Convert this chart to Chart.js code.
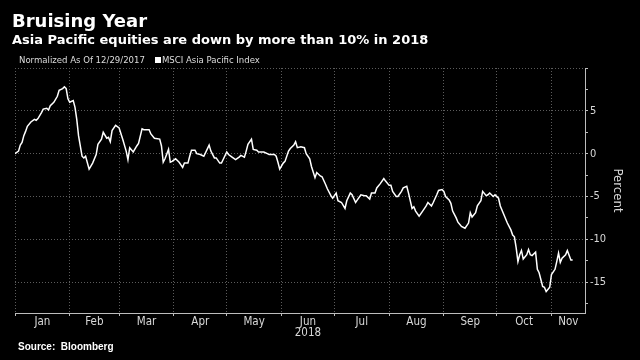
<!DOCTYPE html>
<html>
<head>
<meta charset="utf-8">
<script src="https://cdn.jsdelivr.net/npm/chart.js@4.4.0/dist/chart.umd.min.js"></script>
<style>
  html, body { margin: 0; padding: 0; background: #000; }
  #wrap { position: relative; width: 640px; height: 360px; overflow: hidden; background: #000; }
  #chart { position: absolute; left: 0; top: 0; }
  .txt { position: absolute; color: #fff; white-space: nowrap; line-height: 1; }
  #title { left: 12px; top: 10px; font: bold 18px 'DejaVu Sans', sans-serif; }
  #subtitle { left: 12px; top: 32px; font: bold 13px 'DejaVu Sans', sans-serif; }
  #legend { left: 19px; top: 54px; font: 9.5px 'DejaVu Sans Condensed', 'DejaVu Sans', sans-serif; color: #ddd; }
  #legend .sw { display: inline-block; width: 6px; height: 6px; background: #fff; margin: 0 1px 0 10px; }
  #source { left: 18px; top: 341px; font: bold 10px 'Liberation Sans', sans-serif; }
</style>
</head>
<body>
<div id="wrap">
  <canvas id="chart" width="640" height="360"></canvas>
  <div class="txt" id="title">Bruising Year</div>
  <div class="txt" id="subtitle">Asia Pacific equities are down by more than 10% in 2018</div>
  <div class="txt" id="legend">Normalized As Of 12/29/2017<span class="sw"></span>MSCI Asia Pacific Index</div>
  <div class="txt" id="source">Source:&nbsp; Bloomberg</div>
</div>
<script>
// Days since Jan 1 2018 and % change vs 12/29/2017
const tradeDays = [
  0, 2, 3, 4, 5, 6, 7, 9, 11, 12,
  13, 15, 16, 18, 19, 20, 22, 24, 25, 27,
  28, 29, 30, 31, 33, 34, 35, 36, 38, 39,
  40, 42, 44, 46, 47, 49, 50, 52, 53, 54,
  55, 57, 59, 61, 63, 64, 65, 67, 69, 70,
  72, 73, 76, 77, 79, 82, 83, 84, 85, 87,
  88, 89, 91, 93, 95, 96, 98, 99, 100, 102,
  103, 105, 107, 110, 111, 113, 114, 116, 117, 120,
  121, 123, 125, 127, 128, 130, 131, 132, 134, 135,
  137, 138, 141, 143, 144, 147, 148, 149, 150, 152,
  153, 155, 156, 158, 159, 160, 162, 164, 165, 167,
  168, 170, 171, 173, 174, 176, 177, 179, 180, 182,
  183, 185, 187, 188, 190, 191, 193, 194, 196, 198,
  199, 201, 202, 204, 205, 207, 209, 210, 212, 213,
  214, 216, 217, 219, 220, 222, 223, 225, 226, 227,
  229, 231, 233, 234, 236, 237, 239, 240, 242, 243,
  244, 246, 247, 248, 250, 251, 253, 255, 257, 258,
  259, 261, 262, 264, 265, 267, 268, 269, 271, 272,
  274, 275, 277, 279, 281, 282, 283, 284, 285, 286,
  287, 288, 290, 291, 292, 293, 295, 296, 297, 299,
  300, 301, 303, 304, 306, 307, 308, 309, 310, 312,
  313, 315, 316
];
const msciApac = [
  0, 0.3, 1.0, 1.3, 2.1, 2.6, 3.2, 3.7, 4.0, 3.9,
  4.1, 4.8, 5.2, 5.3, 5.1, 5.6, 6.0, 6.7, 7.4, 7.6,
  7.8, 7.6, 6.4, 6.0, 6.2, 5.4, 4.0, 2.1, -0.3, -0.5,
  -0.3, -1.8, -1.1, -0.1, 1.1, 1.7, 2.5, 1.8, 1.9, 1.4,
  2.7, 3.3, 3.0, 1.7, 0.3, -0.7, 0.7, 0.2, 0.9, 1.2,
  2.9, 2.8, 2.8, 2.3, 1.8, 1.7, 0.9, -1.0, -0.6, 0.5,
  -1.0, -0.9, -0.6, -1.0, -1.6, -1.1, -1.1, -0.3, 0.4, 0.4,
  0.0, -0.1, -0.3, 1.0, 0.3, -0.5, -0.5, -1.1, -1.1, 0.2,
  -0.1, -0.4, -0.7, -0.4, -0.2, -0.4, 0.3, 1.1, 1.7, 0.5,
  0.4, 0.2, 0.2, 0.0, -0.1, -0.1, -0.3, -1.0, -1.8, -1.1,
  -0.9, 0.3, 0.6, 1.0, 1.4, 0.7, 0.8, 0.7, 0.0, -0.6,
  -1.5, -2.8, -2.2, -2.6, -2.7, -3.6, -4.1, -4.9, -5.2, -4.6,
  -5.5, -5.7, -6.4, -5.5, -4.6, -4.8, -5.7, -5.4, -4.8, -4.9,
  -4.9, -5.3, -4.6, -4.6, -4.0, -3.5, -2.9, -3.2, -3.7, -3.7,
  -4.4, -5.0, -5.0, -4.4, -4.0, -3.8, -4.6, -6.4, -6.2, -6.7,
  -7.3, -6.7, -6.1, -5.7, -6.1, -5.7, -4.8, -4.3, -4.2, -4.4,
  -5.0, -5.4, -5.8, -6.7, -7.5, -8.0, -8.5, -8.7, -8.1, -6.9,
  -7.4, -6.9, -6.1, -5.5, -4.4, -4.9, -4.8, -4.6, -5.0, -4.8,
  -5.2, -6.1, -7.1, -8.1, -8.9, -9.5, -9.7, -11.0, -12.6, -11.8,
  -11.3, -12.3, -11.8, -11.2, -11.8, -11.9, -11.5, -13.5, -13.9, -15.5,
  -15.6, -16.1, -15.6, -14.1, -13.5, -12.6, -11.6, -12.7, -12.2, -11.8,
  -11.3, -12.4, -12.4
];

const monthStarts = [0, 31, 59, 90, 120, 151, 181, 212, 243, 273, 304];
const monthLabels = ['Jan', 'Feb', 'Mar', 'Apr', 'May', ['Jun', '2018'], 'Jul', 'Aug', 'Sep', 'Oct', 'Nov'];
const yTickValues = [-17.5, -15, -12.5, -10, -7.5, -5, -2.5, 0, 2.5, 5, 7.5, 10];
const xMax = 323;

const gridColor = '#5c5c5c';
const axisColor = '#bdbdbd';
const labelColor = '#d8d8d8';

// label each month in the middle of its span
const monthMids = monthStarts.map((d, i) => (d + (i < monthStarts.length - 1 ? monthStarts[i + 1] : xMax)) / 2);

Chart.defaults.font.family = "'DejaVu Sans Condensed', 'DejaVu Sans', sans-serif";

new Chart(document.getElementById('chart'), {
  type: 'line',
  data: {
    datasets: [{
      label: 'MSCI Asia Pacific Index',
      data: tradeDays.map((d, i) => ({ x: d, y: msciApac[i] })),
      borderColor: '#ffffff',
      borderWidth: 1.5,
      pointRadius: 0,
      tension: 0,
      fill: false,
      xAxisID: 'x',
      yAxisID: 'y'
    }]
  },
  options: {
    responsive: false,
    devicePixelRatio: 1,
    animation: false,
    layout: { padding: { left: 15, top: 68, right: 0, bottom: 0 } },
    plugins: { legend: { display: false }, tooltip: { enabled: false } },
    scales: {
      x: {
        type: 'linear',
        position: 'bottom',
        weight: 0,
        min: 0,
        max: xMax,
        afterBuildTicks: s => { s.ticks = monthStarts.map(v => ({ value: v })); },
        afterFit: s => { s.height = 3; },
        grid: { color: gridColor, tickLength: 3, tickColor: axisColor },
        border: { display: true, color: axisColor, width: 1, dash: [1, 2] },
        ticks: { display: false }
      },
      x2: {
        type: 'linear',
        position: 'bottom',
        weight: 1,
        min: 0,
        max: xMax,
        afterBuildTicks: s => { s.ticks = monthMids.map(v => ({ value: v })); },
        afterFit: s => { s.height = 44; },
        grid: { display: false, drawTicks: false },
        border: { display: false },
        ticks: {
          color: labelColor,
          font: { size: 11.5, lineHeight: 1 },
          padding: 0,
          autoSkip: false,
          maxRotation: 0,
          callback: (v, i) => monthLabels[i]
        }
      },
      y: {
        position: 'right',
        min: -18.6,
        max: 10,
        afterBuildTicks: s => { s.ticks = yTickValues.map(v => ({ value: v })); },
        afterFit: s => { s.width = 55; },
        grid: {
          color: c => (c.tick && c.tick.value % 5 === 0) ? gridColor : 'rgba(0,0,0,0)',
          tickLength: 3,
          tickColor: axisColor
        },
        border: { display: true, color: axisColor, width: 1, dash: [1, 2] },
        ticks: {
          color: labelColor,
          font: { size: 11 },
          padding: 2,
          callback: v => (v % 5 === 0 && v < 10) ? String(v) : ''
        },
        title: {
          display: true,
          text: 'Percent',
          color: labelColor,
          font: { size: 13 },
          padding: { top: 15, bottom: 0 }
        }
      }
    }
  }
});
</script>
</body>
</html>
